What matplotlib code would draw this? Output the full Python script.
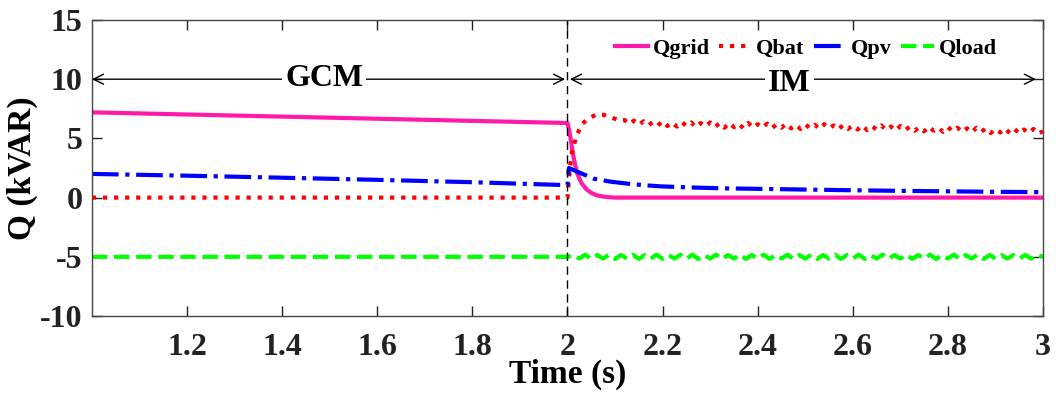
import numpy as np
import matplotlib
matplotlib.use("Agg")
import matplotlib.pyplot as plt

plt.rcParams['font.family'] = ['Liberation Serif', 'DejaVu Serif']
plt.rcParams['font.weight'] = 'bold'
plt.rcParams['axes.unicode_minus'] = False

# Qgrid: slow droop in grid-connected mode, then decays to zero after islanding
t_grid = [1.0, 2.0, 2.004, 2.008, 2.012, 2.016, 2.02, 2.025, 2.03, 2.04, 2.05,
          2.06, 2.07, 2.08, 2.1, 3.0]
q_grid = [7.2, 6.3, 5.6, 4.6, 3.6, 2.8, 2.1, 1.6, 1.2, 0.7, 0.4,
          0.22, 0.12, 0.06, 0.0, 0.0]

# Qbat: zero before 2 s, rises to ~7 then settles around 6 with ripple
t_bat_rise = [1.0, 2.0, 2.005, 2.01, 2.02, 2.03, 2.045, 2.06, 2.075, 2.09, 2.11]
q_bat_rise = [0.0, 0.0, 2.5, 4.0, 5.3, 6.2, 6.7, 7.0, 7.0, 6.8, 6.5]
q_bat_ripple = [
    6.55, 6.2, 6.5, 6.15, 6.45, 6.1, 6.4, 6.1, 6.45, 6.05,
    6.35, 6.0, 6.4, 6.05, 6.35, 5.95, 6.3, 6.0, 6.35, 5.95,
    6.3, 5.9, 6.3, 5.95, 6.25, 5.85, 6.3, 5.9, 6.2, 5.9,
    6.25, 5.85, 6.2, 5.9, 6.25, 5.85, 6.15, 5.8, 6.2, 5.85,
    6.15, 5.8, 6.2, 5.85, 6.1, 5.75, 6.15, 5.8, 6.1, 5.75,
    6.1, 5.7, 6.05, 5.75, 6.1, 5.7, 6.0, 5.65, 6.05, 5.7,
    6.0, 5.65, 5.95, 5.6, 6.0, 5.65, 5.9, 5.55, 5.95, 5.6,
    5.9, 5.55, 5.85, 5.5, 5.9, 5.55, 5.85, 5.45, 5.8, 5.5,
    5.85, 5.45, 5.8, 5.4, 5.75, 5.45, 5.8, 5.4, 5.6,
]
t_bat_ripple = list(np.linspace(2.12, 3.0, len(q_bat_ripple)))
t_bat = t_bat_rise + t_bat_ripple
q_bat = q_bat_rise + q_bat_ripple

# Qpv
t_pv = [1.0, 1.2, 1.4, 1.6, 1.8, 2.0, 2.003, 2.02, 2.055, 2.09, 2.126, 2.16,
        2.196, 2.265, 2.33, 2.4, 2.5, 2.6, 2.7, 2.8, 2.9, 3.0]
q_pv = [2.0, 1.85, 1.68, 1.5, 1.3, 1.05, 2.5, 2.2, 1.6, 1.35, 1.18, 1.05,
        0.95, 0.85, 0.78, 0.74, 0.68, 0.62, 0.57, 0.53, 0.49, 0.46]

# Qload: constant -5, small ripple in islanded mode
q_load_ripple = [
    -4.85, -5.15, -4.82, -5.18, -4.85, -5.15, -4.82, -5.18, -4.85, -5.15,
    -4.82, -5.18, -4.85, -5.15, -4.82, -5.18, -4.85, -5.15, -4.82, -5.18,
    -4.82, -5.18, -4.85, -5.15, -4.82, -5.18, -4.85, -5.15, -4.82, -5.18,
    -4.85, -5.15, -4.82, -5.18, -4.85, -5.15, -4.82, -5.18, -4.85, -5.15,
    -4.82, -5.18, -4.85, -5.15, -4.82, -5.18, -4.85, -5.15, -4.82, -5.18,
    -4.85, -5.15, -4.82, -5.18, -4.85, -5.15, -4.82, -5.18, -4.85, -5.15,
    -4.82, -5.18, -4.85, -5.15, -4.82, -5.18, -4.85, -5.15, -4.82, -5.18,
    -4.85, -5.15, -4.85, -5.15, -4.85, -5.15, -4.85, -5.15, -4.85, -5.0,
]
t_load = [1.0, 2.0] + list(np.linspace(2.0125, 3.0, len(q_load_ripple)))
q_load = [-5.0, -5.0] + q_load_ripple

x_ticks = [1.2, 1.4, 1.6, 1.8, 2, 2.2, 2.4, 2.6, 2.8, 3]
x_tick_labels = ['1.2', '1.4', '1.6', '1.8', '2', '2.2', '2.4', '2.6', '2.8', '3']
y_ticks = [-10, -5, 0, 5, 10, 15]

fig = plt.figure(figsize=(10.56, 3.96), dpi=100)
ax = fig.add_axes([0.0871, 0.202, 0.9006, 0.7475])

ax.plot(t_grid, q_grid, color='#ff1aa8', lw=3, ls='-', label='Qgrid')
ax.plot(t_bat, q_bat, color='#ff0000', lw=3, ls=':', label='Qbat')
ax.plot(t_pv, q_pv, color='#0000ff', lw=3, ls='-.', label='Qpv')
ax.plot(t_load, q_load, color='#00ff00', lw=3, ls='--', label='Qload')

ax.axvline(2.0, color='black', lw=1, ls=(0, (6, 4)))

# mode annotations
arrow = dict(arrowstyle='<->', color='black', lw=1, mutation_scale=18,
             shrinkA=0, shrinkB=0)
ax.annotate('', xy=(1.0, 10), xytext=(1.995, 10), arrowprops=arrow)
ax.annotate('', xy=(2.005, 10), xytext=(2.985, 10), arrowprops=arrow)
ax.text(1.488, 10.1, 'GCM', fontsize=23, fontweight='bold', ha='center',
        va='center', bbox=dict(facecolor='white', edgecolor='none', pad=2))
ax.text(2.467, 9.6, 'IM', fontsize=23, fontweight='bold', ha='center',
        va='center', bbox=dict(facecolor='white', edgecolor='none', pad=2))

ax.set_xlim(1, 3)
ax.set_ylim(-10, 15)
ax.set_xticks(x_ticks)
ax.set_xticklabels(x_tick_labels)
ax.set_yticks(y_ticks)
ax.tick_params(direction='in', top=True, right=True, length=7, width=1,
               labelsize=23, colors='#222222')
ax.tick_params(axis='x', pad=12)
ax.tick_params(axis='y', pad=7)
for s in ax.spines.values():
    s.set_color('#444444')
    s.set_linewidth(1)

ax.set_xlabel('Time (s)', fontsize=24, fontweight='bold', labelpad=-2)
ax.set_ylabel('Q (kVAR)', fontsize=24, fontweight='bold', labelpad=1)

ax.legend(loc='upper right', bbox_to_anchor=(0.968, 0.99), ncol=4,
          frameon=False, fontsize=16, handlelength=1.5, handletextpad=0.2,
          columnspacing=0.4, borderpad=0.2)

fig.savefig('out.png', dpi=100)
